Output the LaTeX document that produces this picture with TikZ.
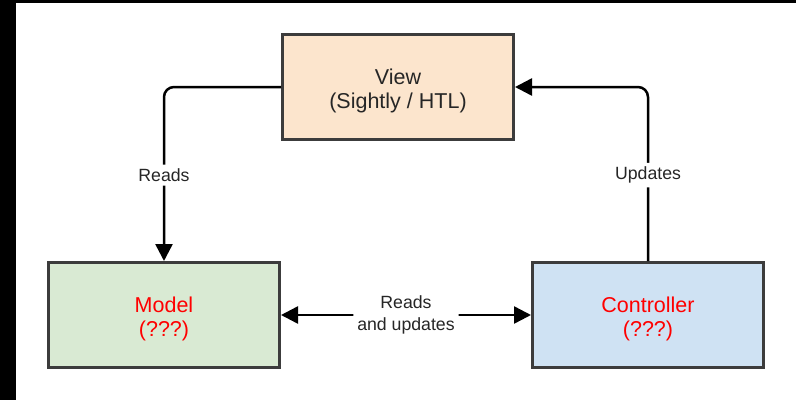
\documentclass[tikz,border=0pt]{standalone}
\usepackage{fontspec}
\setmainfont{Liberation Sans}
\usetikzlibrary{arrows.meta}
\definecolor{viewfill}{HTML}{FCE5CD}
\definecolor{modelfill}{HTML}{D9EAD3}
\definecolor{ctrlfill}{HTML}{CFE2F3}
\definecolor{boxline}{HTML}{3C3C3C}
\definecolor{warnred}{HTML}{FF0000}
% tall strut on the first line drops the block text a little below centre
\newcommand{\firstline}{\rule{0pt}{23.5pt}}
\tikzset{
  block/.style={draw=boxline, line width=3pt, minimum width=231pt, minimum height=105pt,
    align=center, font=\fontsize{21.5}{24}\selectfont, text=black!85},
  link/.style={draw=black, line width=2.5pt, rounded corners=10pt},
  tip/.style={-{Triangle[length=17pt,width=17pt]}},
  bothtips/.style={{Triangle[length=17pt,width=17pt]}-{Triangle[length=17pt,width=17pt]}},
  tag/.style={fill=white, inner sep=4pt, align=center, font=\fontsize{17.7}{22}\selectfont, text=black!85}
}
\begin{document}
\begin{tikzpicture}[x=1pt,y=-1pt]
  % canvas and its dark frame strips
  \fill[white] (0,0) rectangle (796,400);
  \fill[black] (0,0) rectangle (16,400);
  \fill[black] (0,0) rectangle (796,3);
  \useasboundingbox (0,0) rectangle (796,400);

  % the three MVC blocks
  \node[block, fill=viewfill] (view) at (398,87) {\firstline View\\(Sightly / HTL)};
  \node[block, fill=modelfill, text=warnred] (model) at (164,315) {\firstline Model\\(???)};
  \node[block, fill=ctrlfill, text=warnred] (ctrl) at (648,315) {\firstline Controller\\(???)};

  % connectors
  \draw[link, tip] (view.west) -| (model.north)
    node[tag, pos=0.753] {Reads};
  \draw[link, tip] (ctrl.north) |- (view.east)
    node[tag, pos=0.247] {Updates};
  \draw[link, bothtips] (model.east) -- (ctrl.west)
    node[tag, midway] {Reads\\and updates};
\end{tikzpicture}
\end{document}
